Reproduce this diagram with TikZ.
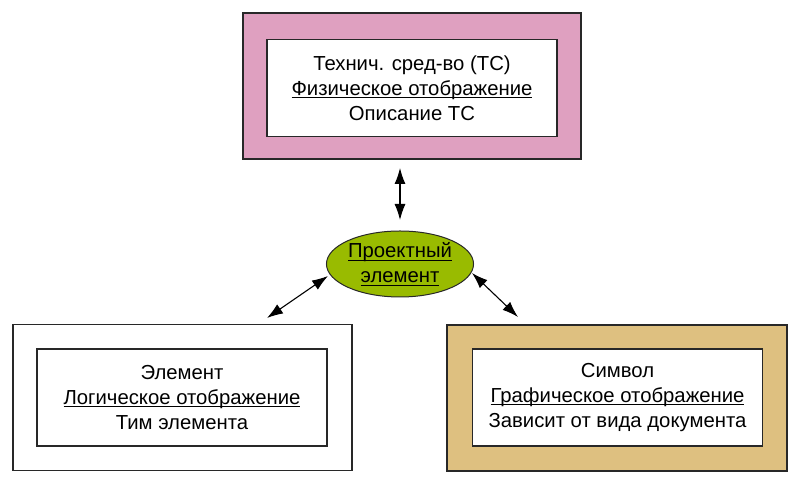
\documentclass[tikz,border=0pt]{standalone}
\usepackage{fontspec}
\setmainfont{Liberation Sans}
\usetikzlibrary{arrows.meta,shapes.geometric}
\definecolor{pinkfill}{RGB}{223,160,192}
\definecolor{tanfill}{RGB}{222,192,128}
\definecolor{greenfill}{RGB}{153,187,0}
\definecolor{edge}{RGB}{40,40,40}
\newcommand\ulin[1]{\setbox0\hbox{#1}\rlap{\raisebox{-3pt}{\rule{\wd0}{1pt}}}\box0}
\tikzset{
  outerbox/.style={draw=edge, line width=1.2pt, minimum width=#1, minimum height=146pt, inner sep=0pt},
  innerbox/.style={draw=edge, line width=1.2pt, fill=white, minimum width=290pt, minimum height=97pt, align=center, font=\fontsize{20.3}{25}\selectfont, inner sep=0pt},
  dblarrow/.style={line width=1.1pt, {Latex[length=16pt,width=11pt]}-{Latex[length=16pt,width=11pt]}},
}
\begin{document}
\begin{tikzpicture}[x=1pt,y=1pt]
\useasboundingbox (0,0) rectangle (800,486);
% top
\node[outerbox=338pt, fill=pinkfill] (topO) at (412,400) {};
\node[innerbox] (topI) at (412,398) {Технич. сред-во (ТС)\\\ulin{Физическое отображение}\\Описание ТС};
% left
\node[outerbox=339pt, fill=white] (leftO) at (182.5,88.5) {};
\node[innerbox] (leftI) at (182,88.5) {Элемент\\\ulin{Логическое отображение}\\Тим элемента};
% right
\node[outerbox=340pt, fill=tanfill] (rightO) at (617,88) {};
\node[innerbox] (rightI) at (617.5,88.5) {Символ\\\ulin{Графическое отображение}\\Зависит от вида документа};
% ellipse
\node[ellipse, draw=edge, line width=1pt, fill=greenfill, minimum width=140pt, minimum height=66pt, inner sep=0pt, align=center, font=\fontsize{20.3}{25}\selectfont] (ell) at (400,222) {\ulin{Проектный}\\\ulin{элемент}};
% arrow ends
\coordinate (t1) at (400,318);
\coordinate (t2) at (400,266);
\coordinate (l1) at (328,210);
\coordinate (l2) at (267,168);
\coordinate (r1) at (472,213);
\coordinate (r2) at (518,169);
\draw[dblarrow] (t1) -- (t2);
\draw[dblarrow] (l1) -- (l2);
\draw[dblarrow] (r1) -- (r2);
\end{tikzpicture}
\end{document}
